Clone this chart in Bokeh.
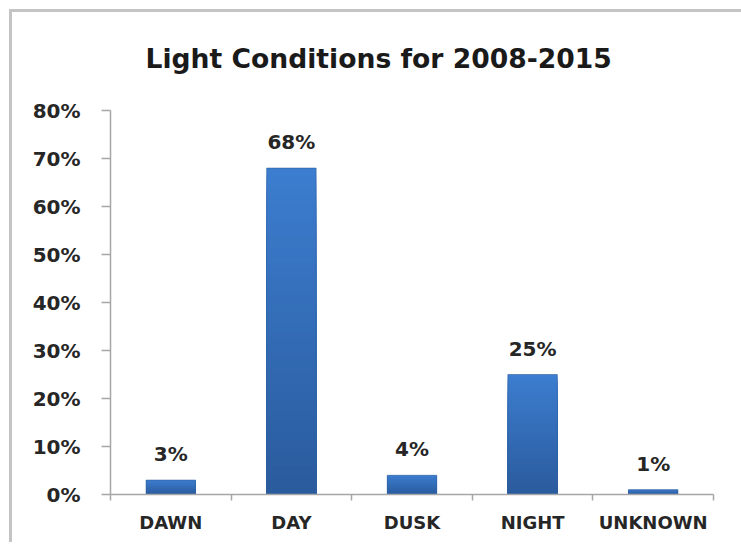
from bokeh.plotting import figure
from bokeh.models import (Range1d, FixedTicker, NumeralTickFormatter, LinearAxis,
                          ColumnDataSource, LabelSet)
from bokeh.core.properties import value
from bokeh.embed import file_html
from bokeh.resources import INLINE
import numpy as np

# Share of crashes by light condition, 2008-2015
categories = ["DAWN", "DAY", "DUSK", "NIGHT", "UNKNOWN"]
shares = [0.03, 0.68, 0.04, 0.25, 0.01]
y_ticks = [0.0, 0.1, 0.2, 0.3, 0.4, 0.5, 0.6, 0.7, 0.8]

title_text = "Light Conditions for 2008-2015"

FONT = "DejaVu Sans"
TEXT = "#262626"
GRID = "#a6a6a6"
FRAME = "#c4c4c4"
BAR_TOP = (60, 125, 207)
BAR_BOTTOM = (42, 91, 157)

n = len(categories)
centers = [i + 0.5 for i in range(n)]
bounds = [float(i) for i in range(n + 1)]

p = figure(width=741, height=542, output_backend="svg", toolbar_location=None,
           x_range=Range1d(0, n), y_range=Range1d(0, 0.8),
           x_axis_type=None, y_axis_type=None,
           min_border_left=110, min_border_right=28,
           min_border_top=110, min_border_bottom=48)
p.outline_line_color = None
p.background_fill_color = "white"
# transparent surround so the box edges painted behind the canvas show through
p.border_fill_color = None
p.styles = {
    "background-color": "white",
    "background-image": f"linear-gradient({FRAME}, {FRAME}), linear-gradient({FRAME}, {FRAME})",
    "background-size": "3px 100%, 100% 3px",
    "background-position": "9px 9px, 9px 9px",
    "background-repeat": "no-repeat",
}

# title
p.title.text = title_text
p.title.align = "left"
p.title.offset = 35
p.title.standoff = 73
p.title.text_font = FONT
p.title.text_font_style = "bold"
p.title.text_font_size = "26.6px"
p.title.text_color = "#1a1a1a"

# y axis with percent labels
yax = LinearAxis(ticker=FixedTicker(ticks=y_ticks, minor_ticks=[]),
                 formatter=NumeralTickFormatter(format="0%"))
yax.axis_line_color = GRID
yax.axis_line_width = 1.5
yax.major_tick_line_color = GRID
yax.major_tick_line_width = 1.5
yax.major_tick_out = 9
yax.major_tick_in = 0
yax.minor_tick_line_color = None
yax.major_label_standoff = 21
yax.major_label_text_font = FONT
yax.major_label_text_font_style = "bold"
yax.major_label_text_font_size = "20px"
yax.major_label_text_color = TEXT
p.add_layout(yax, "left")

# x axis: names at category centres, tick marks at category boundaries
xax = LinearAxis(ticker=FixedTicker(ticks=centers, minor_ticks=bounds))
xax.major_label_overrides = {c: name for c, name in zip(centers, categories)}
xax.axis_line_color = GRID
xax.axis_line_width = 1.5
xax.major_tick_line_color = None
xax.major_tick_out = 0
xax.major_tick_in = 0
xax.minor_tick_line_color = GRID
xax.minor_tick_line_width = 1.5
xax.minor_tick_out = 6
xax.minor_tick_in = 0
xax.major_label_standoff = 11
xax.major_label_text_font = FONT
xax.major_label_text_font_style = "bold"
xax.major_label_text_font_size = "18px"
xax.major_label_text_color = TEXT
p.add_layout(xax, "below")

# horizontal gridlines
p.ygrid.ticker = FixedTicker(ticks=y_ticks)
p.ygrid.grid_line_color = GRID
p.ygrid.grid_line_width = 1.6
p.xgrid.grid_line_color = None

# bars with a vertical gradient: light at the top, darker toward the base
vals = np.array(shares)
steps = 48
for k in range(steps):
    frac = 1.0 - k / steps
    t = k / (steps - 1)
    r = int(round(BAR_TOP[0] + (BAR_BOTTOM[0] - BAR_TOP[0]) * t))
    g = int(round(BAR_TOP[1] + (BAR_BOTTOM[1] - BAR_TOP[1]) * t))
    b = int(round(BAR_TOP[2] + (BAR_BOTTOM[2] - BAR_TOP[2]) * t))
    p.vbar(x=centers, top=vals * frac, bottom=0, width=0.41,
           fill_color=f"#{r:02x}{g:02x}{b:02x}", line_color=None)
p.vbar(x=centers, top=vals, bottom=0, width=0.41, fill_color=None,
       line_color="#31609f", line_width=1, line_alpha=0.6)

# value labels over the bars
src = ColumnDataSource(dict(x=centers, y=shares,
                            txt=[f"{round(v * 100)}%" for v in shares]))
p.add_layout(LabelSet(x="x", y="y", text="txt", source=src, y_offset=19,
                      text_align="center", text_baseline="alphabetic",
                      text_font=value(FONT), text_font_style="bold",
                      text_font_size="20px", text_color=TEXT))

open("out.html", "w").write(file_html(p, INLINE))
